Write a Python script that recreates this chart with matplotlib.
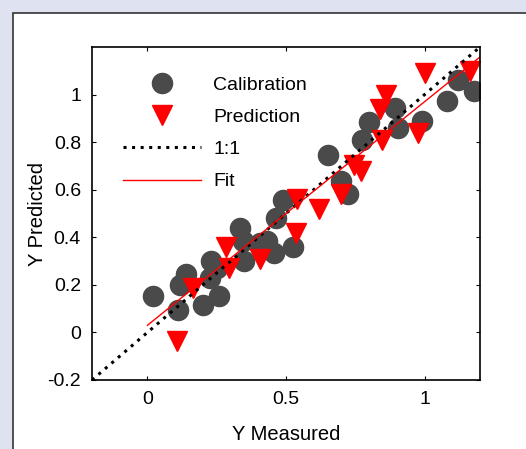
import numpy as np
import matplotlib
matplotlib.use("Agg")
import matplotlib.pyplot as plt
from matplotlib.patches import Rectangle

# --- data ---
cal_x = [0.02, 0.11, 0.118, 0.14, 0.20, 0.225, 0.23, 0.26, 0.25, 0.335,
         0.35, 0.345, 0.405, 0.43, 0.455, 0.465, 0.49, 0.525, 0.65, 0.70,
         0.725, 0.775, 0.80, 0.895, 0.905, 0.99, 1.08, 1.12, 1.18]
cal_y = [0.155, 0.095, 0.20, 0.245, 0.115, 0.23, 0.30, 0.155, 0.27, 0.44,
         0.30, 0.385, 0.375, 0.385, 0.335, 0.48, 0.555, 0.36, 0.745, 0.635,
         0.58, 0.81, 0.885, 0.945, 0.86, 0.89, 0.975, 1.06, 1.015]

pred_x = [0.105, 0.165, 0.285, 0.295, 0.405, 0.535, 0.54, 0.62, 0.70,
          0.745, 0.77, 0.845, 0.84, 0.86, 0.975, 1.0, 1.165]
pred_y = [-0.035, 0.185, 0.36, 0.27, 0.31, 0.42, 0.56, 0.52, 0.58,
          0.705, 0.68, 0.81, 0.94, 1.0, 0.84, 1.09, 1.10]

fit_slope = 0.94
fit_intercept = 0.03
fit_range = [0.0, 1.2]
one_to_one = [-0.2, 1.2]

xticks = [0, 0.5, 1]
yticks = [-0.2, 0, 0.2, 0.4, 0.6, 0.8, 1]

plt.rcParams['font.family'] = ['Liberation Sans', 'DejaVu Sans']

fig = plt.figure(figsize=(5.26, 4.49), dpi=100, facecolor='#dfe3f1')
# white panel behind the axes
fig.patches.append(Rectangle((13 / 526, -0.01), 1.0, 1 - 13 / 449 + 0.01,
                             transform=fig.transFigure, facecolor='white',
                             edgecolor='#333333', linewidth=1.2, zorder=-10))

ax = fig.add_axes([92 / 526, 69 / 449, 388 / 526, 333 / 449])

ax.plot(cal_x, cal_y, 'o', color='#4a4a4a', markersize=14.5, label='Calibration')
ax.plot(pred_x, pred_y, 'v', color='red', markersize=14, label='Prediction')
ax.plot(one_to_one, one_to_one, color='black', linestyle=(0, (1, 1.8)), lw=2.2,
        label='1:1')
fx = np.array(fit_range)
ax.plot(fx, fit_intercept + fit_slope * fx, color='red', lw=1, label='Fit')

ax.set_xlim(-0.2, 1.2)
ax.set_ylim(-0.2, 1.2)
ax.set_xticks(xticks)
ax.set_xticklabels(['0', '0.5', '1'])
ax.set_yticks(yticks)
ax.set_yticklabels(['-0.2', '0', '0.2', '0.4', '0.6', '0.8', '1'])
ax.tick_params(direction='in', top=True, right=True, length=3, labelsize=14,
               pad=8)
for s in ax.spines.values():
    s.set_linewidth(1.2)

ax.set_xlabel('Y Measured', fontsize=14.5, labelpad=12)
ax.set_ylabel('Y Predicted', fontsize=14.5, labelpad=0)

ax.legend(loc='upper left', frameon=False, fontsize=14, handlelength=4,
          handletextpad=0.65, labelspacing=0.75, bbox_to_anchor=(0.035, 0.965))

fig.savefig('out.png', dpi=100, facecolor=fig.get_facecolor())
